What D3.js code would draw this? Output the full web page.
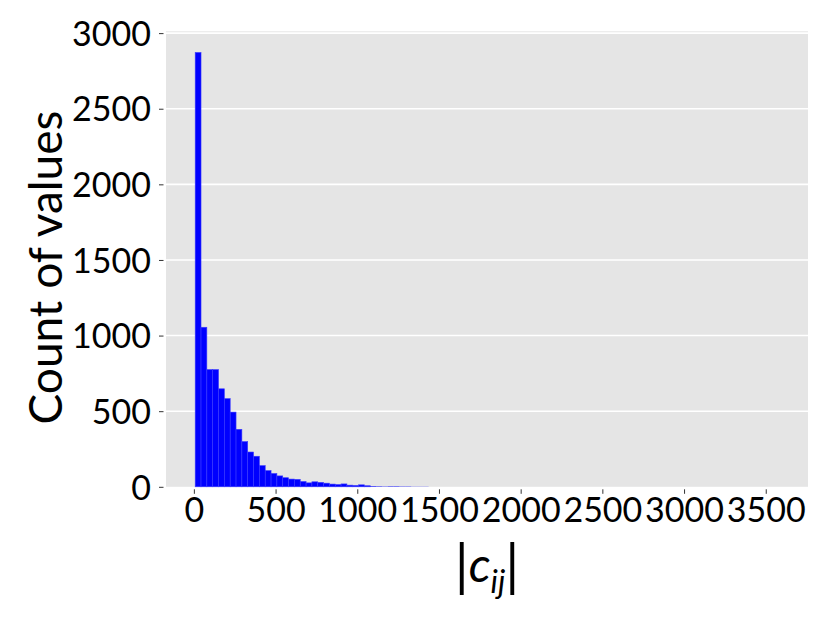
<!DOCTYPE html>
<html>
<head>
<meta charset="utf-8">
<script src="https://cdn.jsdelivr.net/npm/d3@7"></script>
<style>
  html, body { margin: 0; padding: 0; background: #ffffff; }
  svg { display: block; }
  text { font-family: Lato, "Open Sans", sans-serif; fill: #000; }
</style>
</head>
<body>
<svg id="chart" width="830" height="623"></svg>
<script>
// ---- data ----
const binStart = 8;
const binWidth = 35.72;
const counts = [
  2872, 1055, 775, 775, 648, 583, 494, 380, 299, 230,
  202, 140, 107, 88, 72, 60, 51, 49, 35, 26,
  33, 29, 24, 18, 15, 19, 11, 9, 13, 7,
  4, 3, 2, 3, 3, 2, 2, 1, 1, 1,
  0, 0, 0, 0, 0, 0, 0, 0, 0, 0,
  0, 0, 0, 0, 0, 0, 0, 0, 0, 0,
  0, 0, 0, 0, 0, 0, 0, 0, 0, 0,
  0, 0, 0, 0, 0, 0, 0, 0, 0, 0,
  0, 0, 0, 0, 0, 0, 0, 0, 0, 0,
  0, 0, 0, 0, 0, 0, 0, 0, 0, 0
];
const xTicks = [0, 500, 1000, 1500, 2000, 2500, 3000, 3500];
const yTicks = [0, 500, 1000, 1500, 2000, 2500, 3000];
const yLabel = "Count of values";

// ---- layout ----
const svg = d3.select("#chart");
const plot = { left: 166, right: 808, top: 31.3, bottom: 486.8 };

const bins = counts.map((c, i) => ({ x0: binStart + i * binWidth, x1: binStart + (i + 1) * binWidth, n: c }));
const xMin = binStart, xMax = binStart + counts.length * binWidth;
const span = xMax - xMin;
const x = d3.scaleLinear().domain([xMin - 0.05 * span, xMax + 0.05 * span]).range([plot.left, plot.right]);
const y = d3.scaleLinear().domain([0, 3012]).range([plot.bottom, plot.top]);

// background
svg.append("rect")
  .attr("x", plot.left).attr("y", plot.top)
  .attr("width", plot.right - plot.left).attr("height", plot.bottom - plot.top)
  .attr("fill", "#e5e5e5");

// horizontal grid
svg.append("g").selectAll("line").data(yTicks.filter(d => d > 0)).join("line")
  .attr("x1", plot.left).attr("x2", plot.right)
  .attr("y1", d => y(d)).attr("y2", d => y(d))
  .attr("stroke", "#ffffff").attr("stroke-width", 1.6);

// bars
svg.append("g").selectAll("rect").data(bins.filter(b => b.n > 0)).join("rect")
  .attr("x", d => x(d.x0))
  .attr("width", d => x(d.x1) - x(d.x0))
  .attr("y", d => y(d.n))
  .attr("height", d => y(0) - y(d.n))
  .attr("fill", "#0000ff")
  .attr("stroke", "#3a3aff")
  .attr("stroke-width", d => d.n > 5 ? 0.6 : 0);

// y axis
const yAxis = d3.axisLeft(y).tickValues(yTicks).tickSize(4.5).tickPadding(8).tickFormat(d3.format("d"));
const gy = svg.append("g").attr("transform", `translate(${plot.left - 2.5},0)`).call(yAxis);
gy.select(".domain").remove();
gy.selectAll(".tick line").attr("stroke", "#333").attr("stroke-width", 1);
gy.selectAll(".tick text").style("font-size", "34px").attr("dy", "0.36em");

// x axis
const xAxis = d3.axisBottom(x).tickValues(xTicks).tickSize(4.5).tickPadding(4).tickFormat(d3.format("d"));
const gx = svg.append("g").attr("transform", `translate(0,${plot.bottom + 2.5})`).call(xAxis);
gx.select(".domain").remove();
gx.selectAll(".tick line").attr("stroke", "#333").attr("stroke-width", 1);
gx.selectAll(".tick text").style("font-size", "34px").attr("dy", "0.72em");

// y label
svg.append("text")
  .attr("transform", `translate(62,267.5) rotate(-90)`)
  .attr("text-anchor", "middle")
  .style("font-size", "46px")
  .text(yLabel);

// x label |c_ij|
const xl = svg.append("text")
  .attr("x", (plot.left + plot.right) / 2)
  .attr("y", 582)
  .attr("text-anchor", "middle")
  .style("font-size", "48px");
xl.append("tspan").style("font-size", "56px").attr("dy", 3).text("|");
xl.append("tspan").style("font-style", "italic").attr("dy", -3).text("c");
xl.append("tspan").style("font-style", "italic").style("font-size", "32px").attr("dy", 11).text("ij");
xl.append("tspan").style("font-size", "56px").attr("dy", -8).text("|");
</script>
</body>
</html>
